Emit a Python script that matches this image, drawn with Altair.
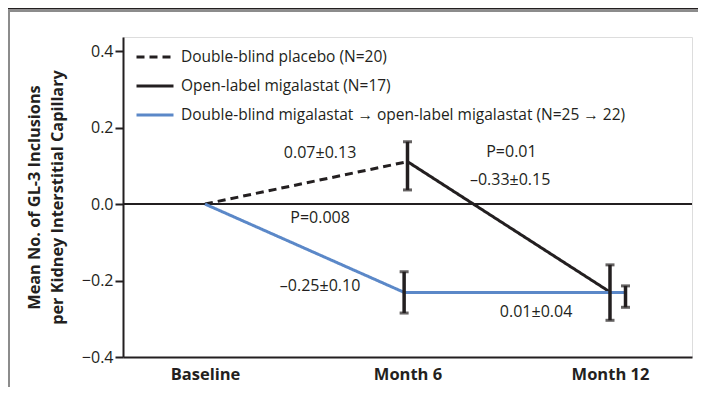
import altair as alt
import pandas as pd

FONT = "Open Sans"
INK = "#231f20"

# ---- data ----
series_names = [
    "Double-blind placebo (N=20)",
    "Open-label migalastat (N=17)",
    "Double-blind migalastat \u2192 open-label migalastat (N=25 \u2192 22)",
]
series_colors = [INK, INK, "#5b88c8"]
series_dash = [[8, 5], [1, 0], [1, 0]]

# line vertices (x in months, y = mean change)
line_series = [0, 0, 1, 1, 2, 2, 2]
line_x = [0.0, 6.0, 6.0, 12.0, 0.0, 5.9, 12.46]
line_y = [0.0, 0.111, 0.111, -0.230, 0.0, -0.231, -0.231]

# error bars
err_x = [6.0, 5.9, 12.0, 12.46]
err_lo = [0.037, -0.285, -0.304, -0.270]
err_hi = [0.163, -0.177, -0.159, -0.214]

# annotations
ann_text = ["0.07\u00b10.13", "P=0.01", "\u20130.33\u00b10.15", "P=0.008",
            "\u20130.25\u00b10.10", "0.01\u00b10.04"]
ann_x = [3.41, 9.08, 9.04, 3.41, 3.41, 9.81]
ann_y = [0.134, 0.137, 0.063, -0.0375, -0.215, -0.282]

x_vals = [0, 6, 12]
x_labels = ["Baseline", "Month 6", "Month 12"]
y_vals = [-0.4, -0.2, 0.0, 0.2, 0.4]
zero_line = [0.0]

# ---- tables ----
lines_df = pd.DataFrame({
    "series": [series_names[i] for i in line_series],
    "x": line_x,
    "y": line_y,
})
err_df = pd.DataFrame({"x": err_x, "lo": err_lo, "hi": err_hi})
ann_df = pd.DataFrame({"x": ann_x, "y": ann_y, "t": ann_text})
zero_df = pd.DataFrame({"y": zero_line})
one_df = pd.DataFrame({"k": [0]})

label_expr = " : ".join(
    [f"datum.value == {v} ? '{l}'" for v, l in zip(x_vals, x_labels)]
) + " : ''"

x_scale = alt.Scale(domain=[-2.43, 14.43], nice=False, zero=False)
y_scale = alt.Scale(domain=[-0.4, 0.437], nice=False, zero=False)

x_axis = alt.Axis(
    values=x_vals, labelExpr=label_expr, title=None, ticks=False,
    domainColor=INK, domainWidth=2, labelFont=FONT, labelFontSize=16.5,
    labelFontWeight="bold", labelColor=INK, labelPadding=9, grid=False,
)
y_axis = alt.Axis(
    values=y_vals, format=".1f",
    labelExpr="replace(datum.label, '-', '\u2013')",
    title=["Mean No. of GL-3 Inclusions", "per Kidney Interstitial Capillary"],
    titleFont=FONT, titleFontSize=16.3, titleFontWeight="bold", titleColor=INK,
    titleAngle=270, titleX=-89, titleY=160, titleAlign="center",
    titleBaseline="middle", titleLineHeight=23,
    domainColor=INK, domainWidth=2, tickColor=INK, tickWidth=2, tickSize=8,
    labelFont=FONT, labelFontSize=16, labelColor=INK, labelPadding=2, grid=False,
)

X = alt.X("x:Q", scale=x_scale, axis=x_axis)
Y = alt.Y("y:Q", scale=y_scale, axis=y_axis)

zero = alt.Chart(zero_df).mark_rule(color=INK, strokeWidth=2).encode(y=Y)

lines = alt.Chart(lines_df).mark_line(strokeWidth=3, strokeCap="butt").encode(
    x=X, y=Y,
    color=alt.Color(
        "series:N",
        scale=alt.Scale(domain=series_names, range=series_colors),
        legend=alt.Legend(
            title=None, orient="none", legendX=12, legendY=0,
            symbolType="stroke", symbolSize=1369, symbolStrokeWidth=3,
            labelFont=FONT, labelFontSize=15.5, labelColor=INK, labelLimit=0,
            labelOffset=6, rowPadding=-15, padding=0,
        ),
    ),
    strokeDash=alt.StrokeDash(
        "series:N",
        scale=alt.Scale(domain=series_names, range=series_dash),
        legend=None,
    ),
    detail="series:N",
)

err_bars = alt.Chart(err_df).mark_rule(color=INK, strokeWidth=3.5).encode(
    x=X, y=alt.Y("lo:Q", scale=y_scale, axis=y_axis), y2="hi:Q"
)
cap_lo = alt.Chart(err_df).mark_tick(
    color=INK, orient="horizontal", size=9, thickness=3
).encode(x=X, y=alt.Y("lo:Q", scale=y_scale, axis=y_axis))
cap_hi = alt.Chart(err_df).mark_tick(
    color=INK, orient="horizontal", size=9, thickness=3
).encode(x=X, y=alt.Y("hi:Q", scale=y_scale, axis=y_axis))

ann = alt.Chart(ann_df).mark_text(
    font=FONT, fontSize=16, color=INK, align="center", baseline="middle"
).encode(x=X, y=Y, text="t:N")

# decorative frame (page furniture), drawn as filled strips
frame_left = alt.Chart(one_df).mark_rect(color="#8c8c8c").encode(
    x=alt.value(-115), x2=alt.value(-113), y=alt.value(-27), y2=alt.value(350)
)
frame_top = alt.Chart(one_df).mark_rect(color="#8c8c8c").encode(
    x=alt.value(-115), x2=alt.value(575), y=alt.value(-27), y2=alt.value(-25)
)
top_bar = alt.Chart(one_df).mark_rect(color=INK).encode(
    x=alt.value(-115), x2=alt.value(575), y=alt.value(-30), y2=alt.value(-27.5)
)

chart = alt.layer(
    frame_left, frame_top, top_bar, zero, lines, err_bars, cap_lo, cap_hi, ann
).properties(
    width=569, height=320,
    autosize=alt.AutoSizeParams(type="none"),
    padding={"left": 115, "top": 29, "right": 6, "bottom": 30},
).configure_view(strokeWidth=0, stroke="transparent").configure(font=FONT)

chart.save("out.html", embed_options={"renderer": "svg", "actions": False})
